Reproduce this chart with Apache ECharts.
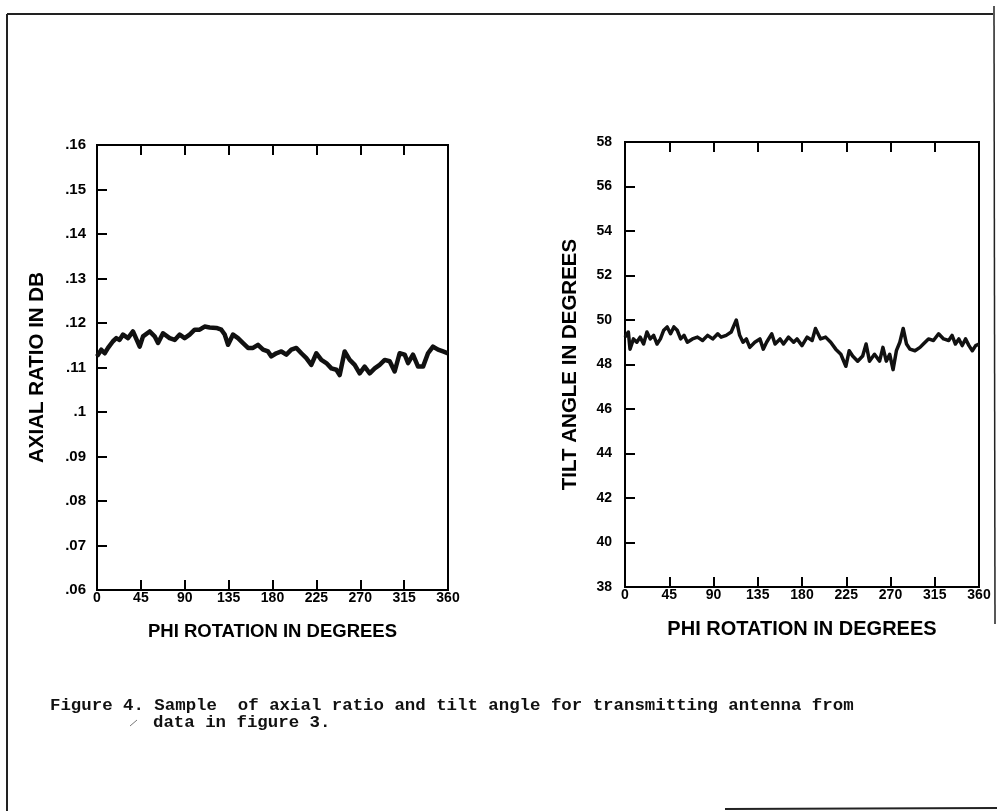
<!DOCTYPE html>
<html>
<head>
<meta charset="utf-8">
<script src="https://cdn.jsdelivr.net/npm/echarts@6/dist/echarts.min.js"></script>
<style>
  html, body { margin: 0; padding: 0; background: #fff; }
  #chart { width: 997px; height: 811px; }
</style>
</head>
<body>
<div id="chart"></div>
<script>
// x ticks for both panels
var phiTicks = [0, 45, 90, 135, 180, 225, 270, 315, 360];

// left panel: axial ratio (dB) against phi rotation
var phiAxial = [0, 4.4, 7.9, 11.3, 16.4, 19.8, 23.2, 26.7, 31.8, 36.9, 43.8, 47.2, 54.0, 59.1, 62.6, 67.7,
  74.5, 79.7, 84.8, 89.9, 95.0, 100.2, 105.3, 110.4, 115.6, 122.4, 127.5, 131.0, 134.4, 139.5, 144.6,
  149.8, 154.9, 160.0, 165.1, 170.3, 175.4, 178.8, 183.9, 189.1, 194.2, 199.3, 204.5, 209.6, 214.7,
  219.8, 225.0, 230.1, 235.2, 240.4, 245.5, 248.9, 254.0, 259.2, 264.3, 269.4, 274.5, 279.7, 284.8,
  289.9, 295.1, 300.2, 305.3, 310.4, 315.6, 319.0, 324.1, 329.3, 334.4, 339.5, 344.6, 349.8, 354.9, 360];
var axialRatio = [0.1125, 0.1140, 0.1132, 0.1144, 0.1159, 0.1166, 0.1162, 0.1174, 0.1166, 0.1181, 0.1147,
  0.1170, 0.1181, 0.1170, 0.1155, 0.1177, 0.1166, 0.1162, 0.1174, 0.1166, 0.1174, 0.1185, 0.1185, 0.1192,
  0.1190, 0.1189, 0.1185, 0.1174, 0.1151, 0.1174, 0.1166, 0.1155, 0.1144, 0.1144, 0.1151, 0.1140, 0.1136,
  0.1125, 0.1132, 0.1136, 0.1129, 0.1140, 0.1144, 0.1132, 0.1121, 0.1106, 0.1132, 0.1117, 0.1110, 0.1098,
  0.1095, 0.1083, 0.1136, 0.1117, 0.1106, 0.1087, 0.1102, 0.1087, 0.1098, 0.1106, 0.1117, 0.1114, 0.1091,
  0.1132, 0.1129, 0.1110, 0.1129, 0.1102, 0.1102, 0.1132, 0.1147, 0.1140, 0.1136, 0.1132];

// right panel: tilt angle (degrees) against phi rotation
var phiTilt = [0, 3.4, 5.1, 8.6, 12.0, 15.4, 18.9, 22.3, 25.7, 29.1, 32.6, 36.0, 39.4, 42.9, 46.3, 49.7,
  53.1, 56.6, 60.0, 63.4, 68.6, 73.7, 78.9, 84.0, 89.2, 94.3, 97.7, 102.9, 108.0, 113.2, 116.6, 120.0,
  123.4, 126.9, 132.0, 137.2, 140.6, 144.0, 149.2, 152.6, 157.7, 161.2, 166.3, 171.5, 174.9, 180.0,
  185.2, 190.3, 193.7, 198.9, 204.0, 209.2, 214.3, 219.5, 224.6, 228.0, 231.5, 236.6, 241.7, 245.2,
  248.6, 253.7, 258.9, 262.3, 265.7, 269.2, 272.6, 276.0, 279.5, 282.9, 286.3, 289.7, 294.9, 300.0,
  303.4, 308.6, 313.7, 318.9, 324.0, 329.2, 332.6, 336.0, 339.5, 342.9, 346.3, 349.8, 353.2, 356.6, 360];
var tiltAngle = [49.23, 49.46, 48.69, 49.15, 49.00, 49.23, 48.92, 49.46, 49.15, 49.31, 48.92, 49.15, 49.54,
  49.69, 49.38, 49.69, 49.54, 49.15, 49.31, 49.00, 49.15, 49.23, 49.08, 49.31, 49.15, 49.38, 49.23, 49.31,
  49.46, 50.00, 49.31, 49.00, 49.15, 48.77, 49.00, 49.15, 48.69, 49.00, 49.38, 48.92, 49.15, 48.92, 49.23,
  49.00, 49.15, 48.85, 49.23, 49.08, 49.62, 49.15, 49.23, 49.00, 48.69, 48.46, 47.92, 48.62, 48.38, 48.15,
  48.38, 48.92, 48.15, 48.46, 48.15, 48.77, 48.15, 48.46, 47.77, 48.62, 49.00, 49.62, 48.92, 48.69, 48.62,
  48.77, 48.92, 49.15, 49.08, 49.38, 49.15, 49.08, 49.31, 48.92, 49.15, 48.85, 49.15, 48.85, 48.62, 48.85, 48.92];

var captionLines = [
  'Figure 4. Sample  of axial ratio and tilt angle for transmitting antenna from',
  'data in figure 3.'
];

function pairs(xs, ys) {
  return xs.map(function (x, i) { return [x, ys[i]]; });
}

var boldSans = { color: '#000', fontFamily: 'Liberation Sans', fontWeight: 'bold' };

function bottomAxis(grid, nameSize) {
  return {
    type: 'value', gridIndex: grid, position: 'bottom',
    min: phiTicks[0], max: phiTicks[phiTicks.length - 1], interval: 45,
    name: 'PHI ROTATION IN DEGREES', nameLocation: 'middle', nameGap: 32,
    nameTextStyle: Object.assign({ fontSize: nameSize }, boldSans),
    axisLine: { show: false },
    axisTick: { show: true, inside: true, length: 10, lineStyle: { color: '#000', width: 2 } },
    axisLabel: Object.assign({ margin: 1, fontSize: 14 }, boldSans),
    splitLine: { show: false }
  };
}
function topAxis(grid) {
  return {
    type: 'value', gridIndex: grid, position: 'top',
    min: phiTicks[0], max: phiTicks[phiTicks.length - 1], interval: 45,
    axisLine: { show: false },
    axisTick: { show: true, inside: true, length: 10, lineStyle: { color: '#000', width: 2 } },
    axisLabel: { show: false },
    splitLine: { show: false }
  };
}

var chart = echarts.init(document.getElementById('chart'));
var option = {
  backgroundColor: '#fff',
  animation: false,
  grid: [
    { left: 97, top: 145, width: 351, height: 445, show: true, borderColor: '#000', borderWidth: 2, backgroundColor: 'transparent' },
    { left: 625, top: 142, width: 354, height: 445, show: true, borderColor: '#000', borderWidth: 2, backgroundColor: 'transparent' }
  ],
  xAxis: [bottomAxis(0, 18.5), topAxis(0), bottomAxis(1, 20), topAxis(1)],
  yAxis: [
    {
      type: 'value', gridIndex: 0, min: 0.06, max: 0.16, interval: 0.01,
      name: 'AXIAL RATIO IN DB', nameLocation: 'middle', nameGap: 49,
      nameTextStyle: Object.assign({ fontSize: 20.5 }, boldSans),
      axisLine: { show: false },
      axisTick: { show: true, inside: true, length: 10, lineStyle: { color: '#000', width: 2 } },
      axisLabel: Object.assign({
        margin: 11, fontSize: 15,
        formatter: function (v) { return (Math.round(v * 100) / 100).toString().replace(/^0/, ''); }
      }, boldSans),
      splitLine: { show: false }
    },
    {
      type: 'value', gridIndex: 1, min: 38, max: 58, interval: 2,
      name: 'TILT ANGLE IN DEGREES', nameLocation: 'middle', nameGap: 44,
      nameTextStyle: Object.assign({ fontSize: 20.5 }, boldSans),
      axisLine: { show: false },
      axisTick: { show: true, inside: true, length: 10, lineStyle: { color: '#000', width: 2 } },
      axisLabel: Object.assign({ margin: 13, fontSize: 14 }, boldSans),
      splitLine: { show: false }
    }
  ],
  series: [
    {
      type: 'line', xAxisIndex: 0, yAxisIndex: 0, data: pairs(phiAxial, axialRatio),
      showSymbol: false, lineStyle: { color: '#111', width: 4.5, join: 'round' }
    },
    {
      type: 'line', xAxisIndex: 2, yAxisIndex: 1, data: pairs(phiTilt, tiltAngle),
      showSymbol: false, lineStyle: { color: '#111', width: 3.5, join: 'round' }
    }
  ],
  graphic: [
    // page frame from the scan
    { type: 'line', shape: { x1: 7, y1: 14, x2: 993, y2: 14 }, style: { stroke: '#222', lineWidth: 2 } },
    { type: 'line', shape: { x1: 7, y1: 14, x2: 7, y2: 811 }, style: { stroke: '#222', lineWidth: 2 } },
    { type: 'line', shape: { x1: 994, y1: 6, x2: 995, y2: 624 }, style: { stroke: '#222', lineWidth: 1.5 } },
    { type: 'line', shape: { x1: 725, y1: 809, x2: 997, y2: 808 }, style: { stroke: '#222', lineWidth: 2 } },
    // caption
    {
      type: 'text', left: 50, top: 697,
      style: { text: captionLines[0], fill: '#111', font: 'bold 17.4px "Liberation Mono"' }
    },
    {
      type: 'text', left: 153, top: 714,
      style: { text: captionLines[1], fill: '#111', font: 'bold 17.4px "Liberation Mono"' }
    },
    { type: 'line', shape: { x1: 130, y1: 726, x2: 137, y2: 720 }, style: { stroke: '#777', lineWidth: 1 } }
  ]
};
chart.setOption(option);
</script>
</body>
</html>
